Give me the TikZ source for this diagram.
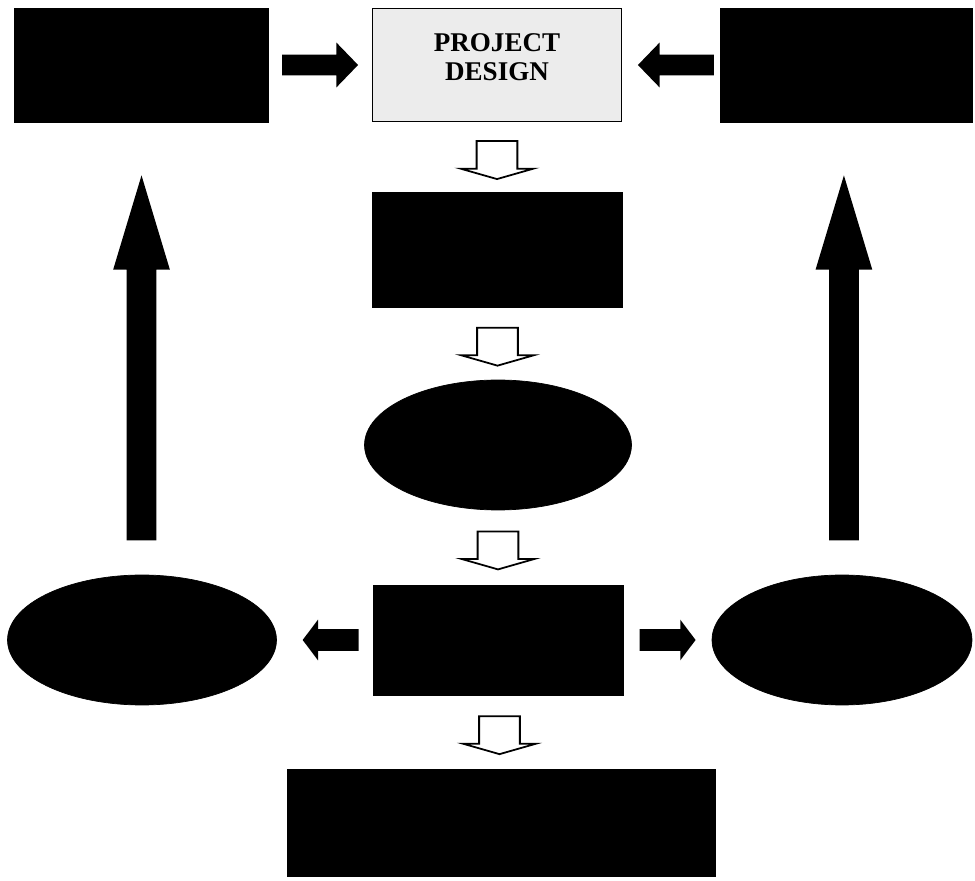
\documentclass[tikz,border=0pt]{standalone}
\usepackage{fontspec}
\setmainfont{Liberation Serif}
\usetikzlibrary{shapes.geometric,shapes.arrows,calc}

\begin{document}
\begin{tikzpicture}[x=0.02cm, y=-0.02cm,
    blackbox/.style={draw, fill=black, minimum width=5cm, minimum height=2.28cm, inner sep=0pt},
    blackoval/.style={ellipse, draw, fill=black, minimum height=2.6cm, inner sep=0pt},
    solidarrow/.style={single arrow, fill=black, inner xsep=0pt},
    hollowarrow/.style={single arrow, draw, line width=1pt, fill=white, inner xsep=0pt, inner ysep=0.39cm,
        minimum height=0.76cm, single arrow head extend=0.32cm, single arrow tip angle=148, rotate=-90}]
    \useasboundingbox (0,0) rectangle (975,881);

    % Top row
    \node[blackbox, minimum width=5.08cm] (inputL) at (141,65) {};
    \node[draw, line width=0.8pt, fill=gray!15, minimum width=4.98cm, minimum height=2.26cm, text depth=9pt,
          align=center, font=\bfseries\fontsize{15.4}{16}\selectfont] (design) at (497,65) {PROJECT\\DESIGN};
    \node[blackbox, minimum width=5.04cm] (inputR) at (846,65) {};

    % Middle column
    \node[blackbox, minimum height=2.3cm] (stageA) at (497,250) {};
    \node[blackoval, minimum width=5.34cm] (stageB) at (498,445) {};
    \node[blackbox, minimum height=2.2cm] (stageC) at (498,640) {};

    % Side ovals
    \node[blackoval, minimum width=5.38cm] (outL) at (142,640) {};
    \node[blackoval, minimum width=5.2cm] (outR) at (842,640) {};

    % Bottom
    \node[blackbox, minimum width=8.56cm, minimum height=2.14cm] (report) at (501,823) {};

    % Arrows into the design box
    \node[solidarrow, minimum height=1.52cm, inner ysep=0.2cm, single arrow head extend=0.24cm,
          single arrow tip angle=92] (toDesignL) at ($(inputL.east)!0.5!(design.west) + (-5,0)$) {};
    \node[solidarrow, minimum height=1.52cm, inner ysep=0.2cm, single arrow head extend=0.24cm,
          single arrow tip angle=92, rotate=180] (toDesignR) at ($(design.east)!0.5!(inputR.west) + (10,0)$) {};

    % Down the middle
    \node[hollowarrow] (downA) at ($(design.south)!0.5!(stageA.north)$) {};
    \node[hollowarrow] (downB) at ($(stageA.south)!0.5!(stageB.north)$) {};
    \node[hollowarrow] (downC) at ($(stageB.south)!0.5!(stageC.north)$) {};
    \node[hollowarrow] (downD) at ($(stageC.south)!0.5!(report.north)$) {};

    % Out to the sides
    \node[solidarrow, minimum height=1.12cm, inner ysep=0.21cm, single arrow head extend=0.19cm,
          single arrow tip angle=106, rotate=180] (toOutL) at ($(outL.east)!0.5!(stageC.west) + (10,0)$) {};
    \node[solidarrow, minimum height=1.12cm, inner ysep=0.21cm, single arrow head extend=0.19cm,
          single arrow tip angle=106] (toOutR) at ($(stageC.east)!0.5!(outR.west) + (-4,0)$) {};

    % Back up to the top
    \node[solidarrow, minimum height=7.3cm, inner ysep=0.29cm, single arrow head extend=0.27cm,
          single arrow tip angle=33.5, rotate=90] (upL) at ($(outL.north)!0.48!(inputL.south) + (0,25)$) {};
    \node[solidarrow, minimum height=7.3cm, inner ysep=0.29cm, single arrow head extend=0.27cm,
          single arrow tip angle=33.5, rotate=90] (upR) at ($(outR.north)!0.48!(inputR.south) + (0,25)$) {};
\end{tikzpicture}
\end{document}
